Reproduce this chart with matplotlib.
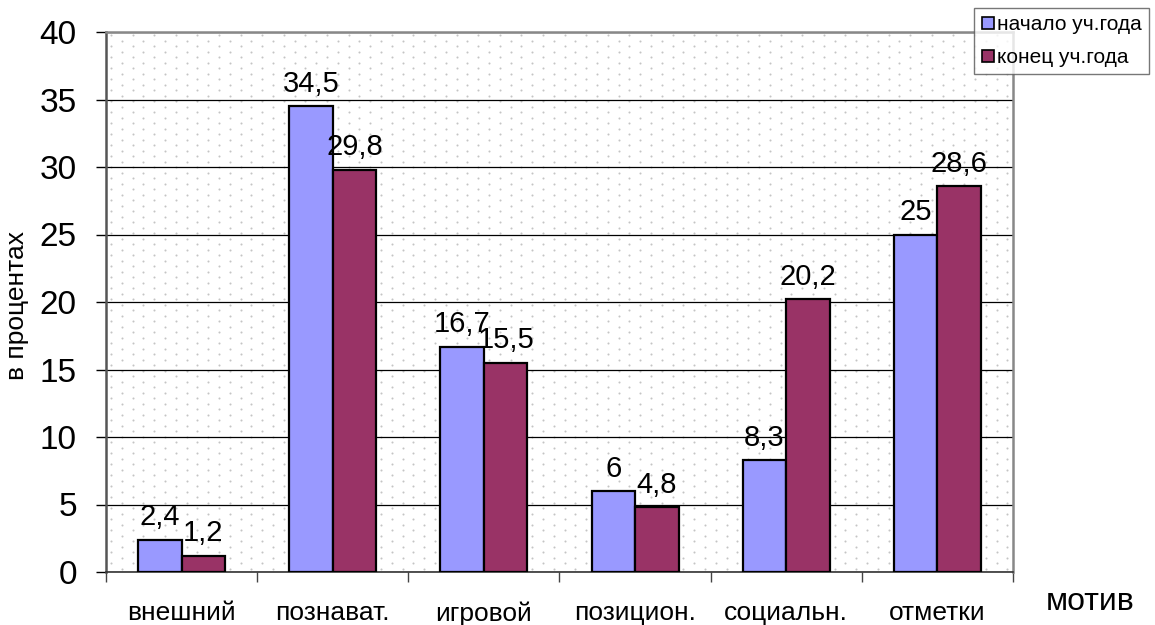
import numpy as np
import matplotlib
matplotlib.use('Agg')
import matplotlib.pyplot as plt
from matplotlib.lines import Line2D

plt.rcParams['font.family'] = ['Liberation Sans', 'DejaVu Sans']

# data
categories = ['внешний', 'познават.', 'игровой', 'позицион.', 'социальн.', 'отметки']
start_year = [2.4, 34.5, 16.7, 6, 8.3, 25]
end_year = [1.2, 29.8, 15.5, 4.8, 20.2, 28.6]
series_names = ['начало уч.года', 'конец уч.года']
yticks = [0, 5, 10, 15, 20, 25, 30, 35, 40]

blue = '#9999ff'
plum = '#993366'

W, H = 1155, 625
fig = plt.figure(figsize=(W / 100, H / 100), dpi=100)
ax = fig.add_axes([106 / W, 1 - 572 / H, (1013 - 106) / W, (572 - 32) / H])

# dotted background pattern (staggered dots)
ax_w, ax_h = 907, 540
dx, dy = 21.6, 5.5
pts_x, pts_y = [], []
for i, yy in enumerate(np.arange(3, ax_h, dy)):
    off = 5 if i % 2 == 0 else 5 + dx / 2
    xs = np.arange(off, ax_w, dx)
    pts_x.extend(xs / ax_w)
    pts_y.extend([1 - yy / ax_h] * len(xs))
ax.scatter(pts_x, pts_y, s=2.2, color='#c4c4c4', linewidths=0,
           transform=ax.transAxes, zorder=0)

x = np.arange(len(categories))
bw = 0.288
b1 = ax.bar(x - bw / 2, start_year, bw, color=blue, edgecolor='black', linewidth=1.6, zorder=3)
b2 = ax.bar(x + bw / 2, end_year, bw, color=plum, edgecolor='black', linewidth=1.6, zorder=3)

def fmt(v):
    return ('%g' % v).replace('.', ',')

for bars, vals in ((b1, start_year), (b2, end_year)):
    for r, v in zip(bars, vals):
        ax.annotate(fmt(v), (r.get_x() + r.get_width() / 2, v), xytext=(0, 6),
                    textcoords='offset points', ha='center', va='bottom',
                    fontsize=21, zorder=4)

ax.set_xlim(-0.5, len(categories) - 0.5)
ax.set_ylim(0, 40)
ax.set_yticks(yticks)
ax.yaxis.grid(True, color='black', linewidth=0.9, zorder=1)
ax.set_axisbelow(True)

ax.set_xticks(x)
ax.set_xticklabels(categories, fontsize=19)
ax.set_xticks(np.arange(-0.5, len(categories)), minor=True)
ax.tick_params(axis='x', which='major', length=0, pad=21)
ax.tick_params(axis='x', which='minor', length=7, width=1, color='#444444')
ax.tick_params(axis='y', labelsize=24, length=7, width=1, pad=14)

for s in ('top', 'right'):
    ax.spines[s].set_color('#888888')
    ax.spines[s].set_linewidth(1.8)
ax.spines['left'].set_color('#555555')
ax.spines['left'].set_linewidth(1.8)
ax.spines['bottom'].set_color('#333333')
ax.spines['bottom'].set_linewidth(1.2)

fig.text(17 / W, 1 - 305 / H, 'в процентах', rotation=90, ha='center', va='center', fontsize=19)
fig.text(1090 / W, 1 - 602 / H, 'мотив', ha='center', va='center', fontsize=23)

handles = [Line2D([], [], marker='s', linestyle='none', markersize=8,
                  markerfacecolor=c, markeredgecolor='black', markeredgewidth=1.2)
           for c in (blue, plum)]
leg = fig.legend(handles, series_names, loc='upper left',
                 bbox_to_anchor=(974 / W, 1 - 8 / H), fontsize=15,
                 frameon=True, fancybox=False, borderpad=0.35, handlelength=0.6,
                 handletextpad=0.15, labelspacing=0.65, borderaxespad=0)
leg.get_frame().set_edgecolor('#555555')
leg.get_frame().set_linewidth(1.0)

fig.savefig('out.png', dpi=100)
